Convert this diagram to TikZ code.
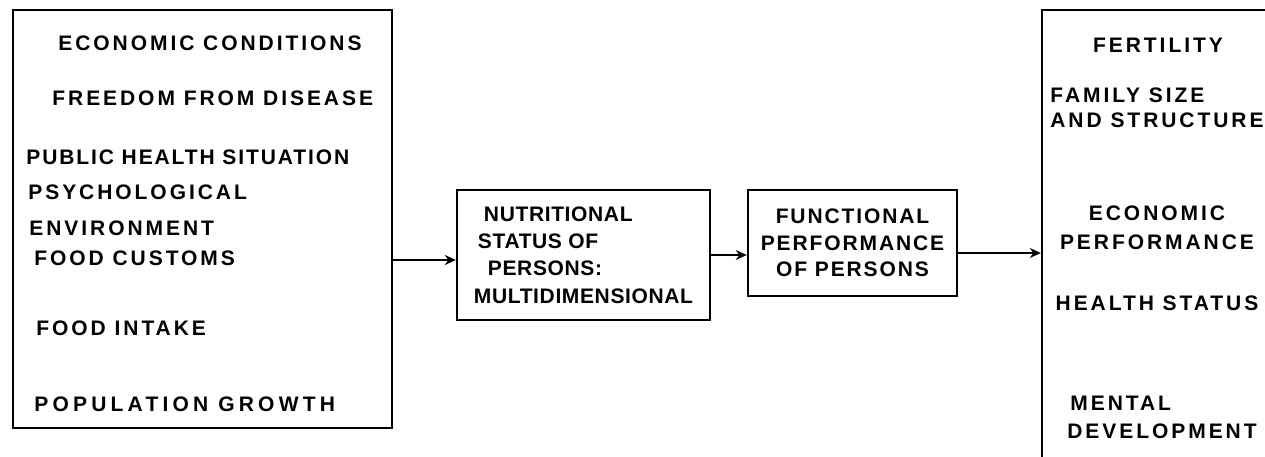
\documentclass[tikz,border=0pt]{standalone}
\usepackage{fontspec}
\setmainfont{Liberation Sans}
\newfontfamily\widelet{Liberation Sans}[LetterSpace=14]
\newfontfamily\midlet{Liberation Sans}[LetterSpace=9]
\newfontfamily\tightlet{Liberation Sans}[LetterSpace=3]
\usetikzlibrary{arrows.meta}

\begin{document}
\begin{tikzpicture}[x=0.5pt,y=-0.5pt,
  box/.style={draw, line width=1.2pt, inner sep=0pt},
  lbl/.style={inner sep=0pt, text height=7.5pt, text depth=0pt,
    font=\widelet\bfseries\fontsize{10.5}{12}\selectfont},
  flow/.style={line width=1pt, -{Stealth[length=5.5pt,width=5pt]}}]
\useasboundingbox (0,0) rectangle (1265,456);
%%% left box: the conditions
\node[box, minimum width=189.5pt, minimum height=209pt] (causes) at (202.5,219) {};
\node[lbl, anchor=west] (econ) at (58,43) {ECONOMIC CONDITIONS};
\node[lbl, anchor=west] (disease) at (52,98) {FREEDOM FROM DISEASE};
\node[lbl, anchor=west] (health) at (26,157) {\addfontfeature{LetterSpace=9}PUBLIC HEALTH SITUATION};
\node[lbl, anchor=west] (psych) at (28,192) {PSYCHOLOGICAL};
\node[lbl, anchor=west] (envir) at (29,228) {ENVIRONMENT};
\node[lbl, anchor=west] (customs) at (34,258) {FOOD CUSTOMS};
\node[lbl, anchor=west] (intake) at (36,328) {FOOD INTAKE};
\node[lbl, anchor=west] (popul) at (34,404) {\addfontfeature{LetterSpace=20}POPULATION GROWTH};
%%% the two middle boxes
\node[box, minimum width=126.5pt, minimum height=65pt, align=left,
  font=\tightlet\bfseries\fontsize{10.5}{13.7}\selectfont] (nutr) at (583.5,255)
{\hspace*{5pt}NUTRITIONAL\\ \hspace*{2pt}STATUS OF\\ \hspace*{7pt}PERSONS:\\ MULTIDIMENSIONAL};
\node[box, minimum width=104.5pt, minimum height=53pt, align=center,
  font=\midlet\bfseries\fontsize{10.5}{13.3}\selectfont] (func) at (852.5,243)
{FUNCTIONAL\\ PERFORMANCE\\ OF PERSONS};
%%% right box: the outcomes (runs off the page)
\node[box, minimum width=124pt, minimum height=230pt] (effects) at (1166,240) {};
\node[lbl] (fert) at (1158,45) {FERTILITY};
\node[lbl, anchor=west] (family) at (1050,95) {FAMILY SIZE};
\node[lbl, anchor=west] (struct) at (1050,120) {AND STRUCTURE};
\node[lbl] (econperf) at (1157,213) {ECONOMIC};
\node[lbl] (perf) at (1157,242) {PERFORMANCE};
\node[lbl] (hstatus) at (1157,303) {HEALTH STATUS};
\node[lbl, anchor=west] (mental) at (1070,403) {MENTAL};
\node[lbl, anchor=west] (devel) at (1067,431) {DEVELOPMENT};
%%% arrows
\coordinate (in1) at ([yshift=-2.5pt]nutr.west);
\coordinate (out2) at ([yshift=-5pt]func.east);
\draw[flow] (causes.east |- in1) -- (in1);
\draw[flow] (nutr.east) -- (func.west |- nutr.east);
\draw[flow] (out2) -- (effects.west |- out2);
\end{tikzpicture}
\end{document}
